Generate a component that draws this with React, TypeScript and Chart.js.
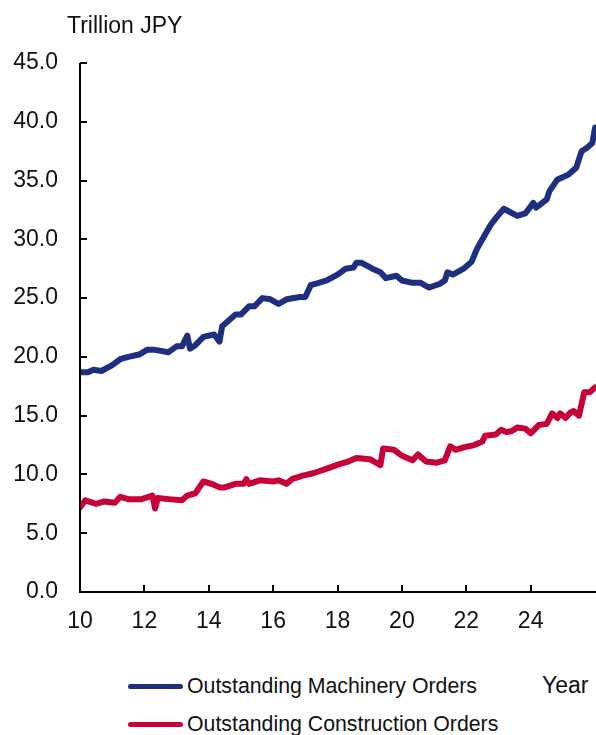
import { useEffect, useRef } from "react";
import { Chart, registerables } from "chart.js";

Chart.register(...registerables);

const FONT = '"Liberation Sans", Arial, Helvetica, sans-serif';
const TEXT = "#111111";
const BLUE = "#1e2f80";
const RED = "#c8003a";

// Outstanding machinery orders (trillion JPY), by month
const machineryMonths = [
  "2010-01", "2010-04", "2010-06", "2010-09", "2011-01", "2011-04", "2011-07", "2011-11",
  "2012-02", "2012-05", "2012-10", "2013-01", "2013-03", "2013-05", "2013-06", "2013-08",
  "2013-11", "2014-03", "2014-05", "2014-06", "2014-11", "2015-01", "2015-04", "2015-06",
  "2015-09", "2015-12", "2016-03", "2016-06", "2016-11", "2017-01", "2017-03", "2017-06",
  "2017-09", "2018-01", "2018-04", "2018-07", "2018-08", "2018-10", "2019-02", "2019-05",
  "2019-07", "2019-11", "2020-01", "2020-05", "2020-08", "2020-11", "2021-03", "2021-05",
  "2021-06", "2021-08", "2021-12", "2022-03", "2022-05", "2022-10", "2022-12", "2023-03",
  "2023-08", "2023-11", "2024-02", "2024-03", "2024-07", "2024-08", "2024-11", "2025-03",
  "2025-06", "2025-08", "2025-10", "2025-12", "2026-01",
];
const machineryValues = [
  18.7, 18.7, 18.9, 18.8, 19.3, 19.8, 20.0, 20.2,
  20.6, 20.6, 20.4, 20.9, 20.9, 21.8, 20.7, 21.0,
  21.7, 21.9, 21.3, 22.6, 23.6, 23.6, 24.3, 24.3,
  25.0, 24.9, 24.5, 24.9, 25.1, 25.1, 26.1, 26.3,
  26.5, 27.0, 27.5, 27.6, 28.0, 28.0, 27.5, 27.2,
  26.7, 26.9, 26.5, 26.3, 26.3, 25.9, 26.2, 26.5,
  27.2, 27.0, 27.5, 28.1, 29.2, 31.2, 31.8, 32.6,
  32.0, 32.2, 33.1, 32.7, 33.4, 34.1, 35.1, 35.5,
  36.1, 37.5, 37.8, 38.2, 39.5,
];

// Outstanding construction orders (trillion JPY), by month
const constructionMonths = [
  "2010-01", "2010-03", "2010-07", "2010-10", "2011-02", "2011-04", "2011-07", "2011-12",
  "2012-04", "2012-05", "2012-06", "2012-10", "2013-03", "2013-05", "2013-08", "2013-11",
  "2014-02", "2014-05", "2014-07", "2014-11", "2015-02", "2015-03", "2015-04", "2015-08",
  "2016-01", "2016-03", "2016-06", "2016-08", "2016-12", "2017-04", "2017-09", "2018-02",
  "2018-05", "2018-08", "2019-01", "2019-05", "2019-06", "2019-10", "2020-01", "2020-05",
  "2020-07", "2020-10", "2021-02", "2021-05", "2021-07", "2021-09", "2021-12", "2022-04",
  "2022-07", "2022-08", "2022-12", "2023-02", "2023-04", "2023-06", "2023-08", "2023-11",
  "2024-01", "2024-04", "2024-07", "2024-09", "2024-11", "2024-12", "2025-02", "2025-04",
  "2025-05", "2025-07", "2025-09", "2025-11", "2026-01",
];
const constructionValues = [
  7.2, 7.8, 7.5, 7.7, 7.6, 8.1, 7.9, 7.9,
  8.2, 7.1, 8.0, 7.9, 7.8, 8.2, 8.4, 9.4,
  9.2, 8.9, 8.9, 9.2, 9.2, 9.6, 9.2, 9.5,
  9.4, 9.5, 9.2, 9.6, 9.9, 10.1, 10.5, 10.9,
  11.1, 11.4, 11.3, 10.8, 12.2, 12.1, 11.6, 11.2,
  11.7, 11.1, 11.0, 11.2, 12.4, 12.1, 12.3, 12.5,
  12.8, 13.3, 13.4, 13.8, 13.6, 13.7, 14.0, 13.9,
  13.5, 14.2, 14.3, 15.2, 14.8, 15.2, 14.8, 15.3,
  15.4, 15.0, 17.0, 17.0, 17.4,
];

// Year axis ticks (two-digit years) and value-axis range
const yearTicks = [10, 12, 14, 16, 18, 20, 22, 24];
const yearMin = 10;
const yearMax = 26.03;
const valueMin = 0;
const valueMax = 45;
const valueStep = 5;

const seriesNames = ["Outstanding Machinery Orders", "Outstanding Construction Orders"];

// "2013-05" -> 13.333 (years since 2000)
const toYear = (m: string) => {
  const [y, mo] = m.split("-").map(Number);
  return y - 2000 + (mo - 1) / 12;
};

const toPoints = (months: string[], values: number[]) =>
  months.map((m, i) => ({ x: toYear(m), y: values[i] }));

// Axis lines with inward-pointing tick marks
const axisPlugin = {
  id: "inwardAxes",
  afterDraw(chart: any) {
    const { ctx, chartArea } = chart;
    const xs = chart.scales.x;
    const ys = chart.scales.y;
    const { left, right, top, bottom } = chartArea;
    ctx.save();
    ctx.strokeStyle = "#000";
    ctx.lineWidth = 2;
    ctx.lineCap = "butt";
    ctx.beginPath();
    ctx.moveTo(left, top);
    ctx.lineTo(left, bottom + 1);
    ctx.moveTo(left - 1, bottom);
    ctx.lineTo(right, bottom);
    ys.ticks.forEach((t: any) => {
      const py = Math.round(ys.getPixelForValue(t.value));
      ctx.moveTo(left, py);
      ctx.lineTo(left + 7, py);
    });
    xs.ticks.forEach((t: any) => {
      const px = Math.round(xs.getPixelForValue(t.value));
      ctx.moveTo(px, bottom);
      ctx.lineTo(px, bottom - 7);
    });
    ctx.stroke();
    ctx.restore();
  },
};

export default function App() {
  const canvasRef = useRef<HTMLCanvasElement | null>(null);

  useEffect(() => {
    if (!canvasRef.current) return;
    const chart = new Chart(canvasRef.current, {
      type: "line",
      data: {
        datasets: [
          {
            label: seriesNames[0],
            data: toPoints(machineryMonths, machineryValues),
            borderColor: BLUE,
            borderWidth: 6,
            pointRadius: 0,
            tension: 0,
            borderJoinStyle: "round",
            borderCapStyle: "round",
          },
          {
            label: seriesNames[1],
            data: toPoints(constructionMonths, constructionValues),
            borderColor: RED,
            borderWidth: 6,
            pointRadius: 0,
            tension: 0,
            borderJoinStyle: "round",
            borderCapStyle: "round",
          },
        ],
      },
      options: {
        animation: false,
        responsive: false,
        devicePixelRatio: 1,
        layout: { padding: { top: 63, right: 0, bottom: 0, left: 0 } },
        plugins: {
          legend: { display: false },
          tooltip: { enabled: false },
        },
        scales: {
          x: {
            type: "linear",
            min: yearMin,
            max: yearMax,
            grid: { display: false, drawTicks: false },
            border: { display: false },
            ticks: {
              font: { family: FONT, size: 23 },
              color: TEXT,
              padding: 16,
              maxRotation: 0,
              callback: (v: any) => String(v),
            },
            afterBuildTicks: (s: any) => {
              s.ticks = yearTicks.map((v) => ({ value: v }));
            },
            afterFit: (s: any) => {
              s.height = 58;
            },
          },
          y: {
            min: valueMin,
            max: valueMax,
            grid: { display: false, drawTicks: false },
            border: { display: false },
            ticks: {
              stepSize: valueStep,
              font: { family: FONT, size: 23 },
              color: TEXT,
              padding: 22,
              callback: (v: any) => Number(v).toFixed(1),
            },
            afterFit: (s: any) => {
              s.width = 80;
            },
          },
        },
      },
      plugins: [axisPlugin],
    });
    return () => chart.destroy();
  }, []);

  const textStyle = {
    position: "absolute" as const,
    fontFamily: FONT,
    color: TEXT,
    whiteSpace: "nowrap" as const,
    lineHeight: 1.2,
  };

  const legendLine = (top: number, color: string) => ({
    position: "absolute" as const,
    left: 128,
    top,
    width: 55,
    height: 5,
    borderRadius: 3,
    background: color,
  });

  return (
    <div
      style={{
        position: "fixed",
        left: 0,
        top: 0,
        width: 596,
        height: 735,
        overflow: "hidden",
        background: "#fff",
      }}
    >
      <canvas
        ref={canvasRef}
        width={596}
        height={650}
        style={{ position: "absolute", left: 0, top: 0, width: 596, height: 650 }}
      />
      <div style={{ ...textStyle, left: 67, top: 11.8, fontSize: 23 }}>Trillion JPY</div>
      <div style={legendLine(683.5, BLUE)} />
      <div style={{ ...textStyle, left: 187, top: 673.5, fontSize: 21.3 }}>{seriesNames[0]}</div>
      <div style={legendLine(721.5, RED)} />
      <div style={{ ...textStyle, left: 187, top: 711.5, fontSize: 21.3 }}>{seriesNames[1]}</div>
      <div style={{ ...textStyle, left: 542, top: 672, fontSize: 23 }}>Year</div>
    </div>
  );
}
